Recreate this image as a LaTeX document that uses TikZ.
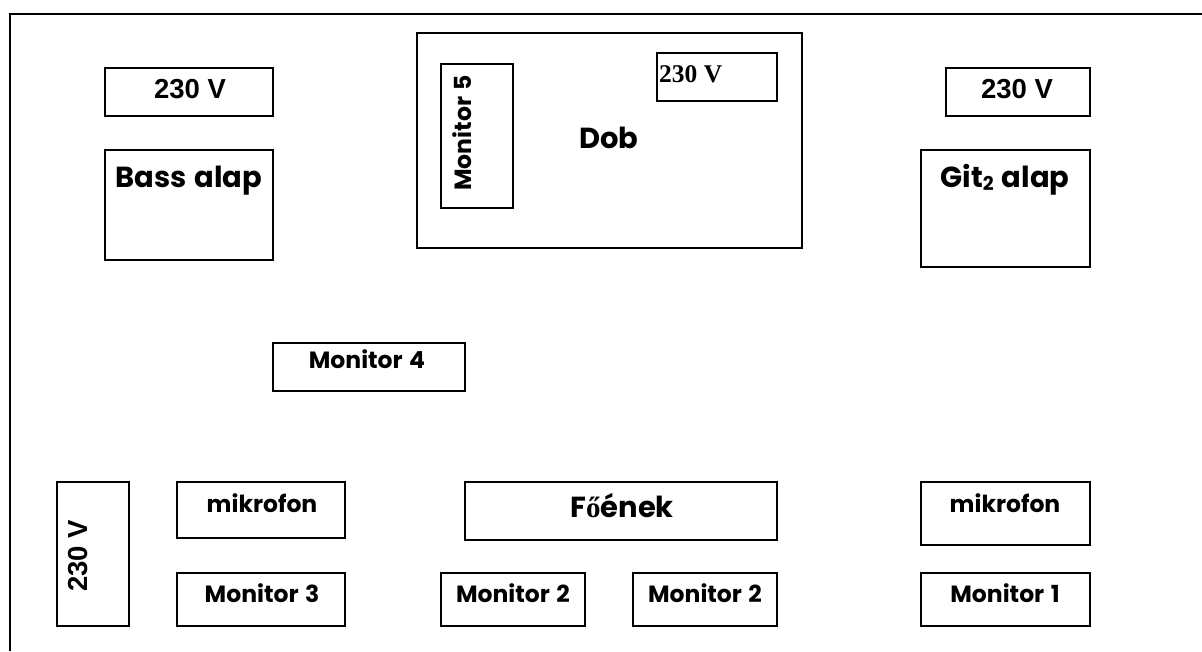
\documentclass[tikz,border=0pt]{standalone}
\usepackage{fontspec}
\newfontfamily\gothic{Poppins}[WordSpace=1.3]
\newfontfamily\arialf{Liberation Sans}
\newfontfamily\timesf{Liberation Serif}
\begin{document}
\begin{tikzpicture}[x=1pt,y=-1pt,
  box/.style={draw, line width=1.4pt, inner sep=0pt},
  tx/.style={inner sep=0pt, anchor=base},
  big/.style={font=\gothic\bfseries\fontsize{29}{29}\selectfont},
  mid/.style={font=\gothic\bfseries\fontsize{23.5}{23.5}\selectfont},
  volt/.style={font=\arialf\bfseries\fontsize{27.5}{27.5}\selectfont},
  voltser/.style={font=\timesf\bfseries\fontsize{25.5}{25.5}\selectfont},
  frame/.style={line width=1.8pt}]
\useasboundingbox (0,0) rectangle (1202,651);
% frame
\coordinate (f0) at (10,651);
\coordinate (f1) at (10,14);
\coordinate (f2) at (1202,14);
\draw[frame] (f0) -- (f1) -- (f2);
% boxes
\node[box, minimum width=168pt, minimum height=48pt] (b230a) at (189,92) {};
\node[box, minimum width=168pt, minimum height=110pt] (bass) at (189,205) {};
\node[box, minimum width=385pt, minimum height=215pt] (dob) at (609.5,140.5) {};
\node[box, minimum width=72pt, minimum height=144pt] (mon5) at (477,136) {};
\node[box, minimum width=120pt, minimum height=48pt] (b230s) at (717,77) {};
\node[box, minimum width=144pt, minimum height=48pt] (b230b) at (1018,92) {};
\node[box, minimum width=169pt, minimum height=117pt] (git) at (1005.5,208.5) {};
\node[box, minimum width=192pt, minimum height=48pt] (mon4) at (369,367) {};
\node[box, minimum width=72pt, minimum height=144pt] (b230c) at (93,554) {};
\node[box, minimum width=168pt, minimum height=56pt] (mik1) at (261,510) {};
\node[box, minimum width=312pt, minimum height=58pt] (fo) at (621,511) {};
\node[box, minimum width=169pt, minimum height=63pt] (mik2) at (1005.5,513.5) {};
\node[box, minimum width=168pt, minimum height=53pt] (mon3) at (261,599.5) {};
\node[box, minimum width=144pt, minimum height=53pt] (mon2a) at (513,599.5) {};
\node[box, minimum width=144pt, minimum height=53pt] (mon2b) at (705,599.5) {};
\node[box, minimum width=169pt, minimum height=53pt] (mon1) at (1005.5,599.5) {};
% texts
\node[tx, volt] (t230a) at (190,98) {230 V};
\node[tx, big] (tbass) at (189,187) {Bass alap};
\node[tx, big] (tdob) at (609,148) {Dob};
\node[tx, mid, rotate=90] (tmon5) at (471,133) {Monitor 5};
\node[tx, voltser, anchor=base west] (t230s) at (659,82) {230 V};
\node[tx, volt] (t230b) at (1017,98) {230 V};
\node[tx, big] (tgit) at (1005,187) {Git\raisebox{-0.12em}{\fontsize{19}{19}\selectfont 2} alap};
\node[tx, mid] (tmon4) at (367,368) {Monitor 4};
\node[tx, volt, rotate=90] (t230c) at (87,556) {230 V};
\node[tx, mid] (tmik1) at (262,512) {mikrofon};
\node[tx, big] (tfo) at (622,517) {F{\timesf\bfseries ő}ének};
\node[tx, mid] (tmik2) at (1005,512) {mikrofon};
\node[tx, mid] (tmon3) at (262,602) {Monitor 3};
\node[tx, mid] (tmon2a) at (513,602) {Monitor 2};
\node[tx, mid] (tmon2b) at (705,602) {Monitor 2};
\node[tx, mid] (tmon1) at (1005,602) {Monitor 1};
\end{tikzpicture}
\end{document}
